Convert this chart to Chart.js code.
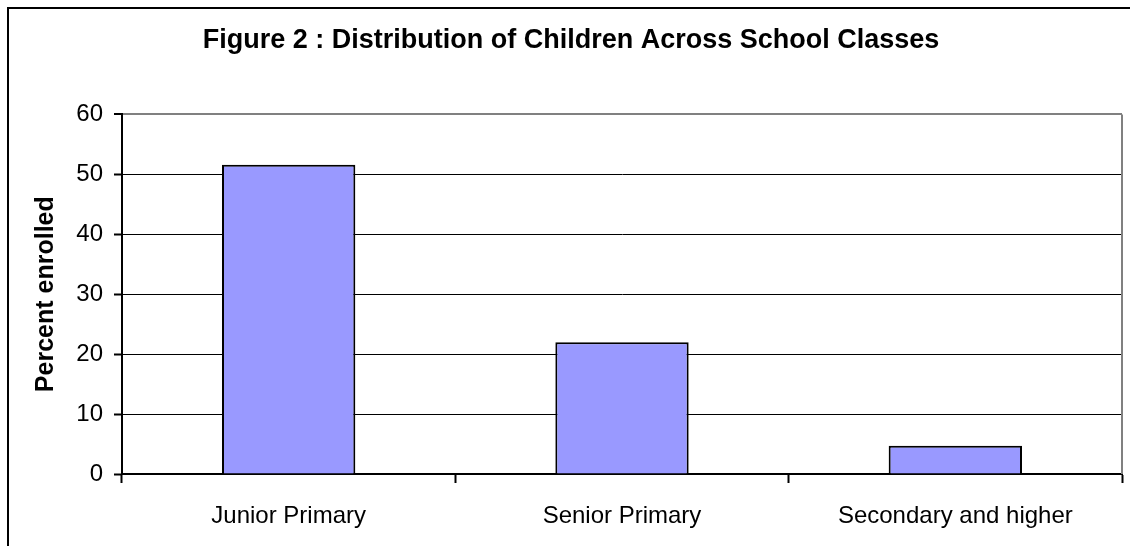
<!DOCTYPE html>
<html>
<head>
<meta charset="utf-8">
<script src="https://cdn.jsdelivr.net/npm/chart.js@4"></script>
<style>
  html, body { margin: 0; padding: 0; background: #fff; }
  #wrap { width: 1130px; height: 546px; }
</style>
</head>
<body>
<div id="wrap"><canvas id="chart"></canvas></div>
<script>
const categories = ["Junior Primary", "Senior Primary", "Secondary and higher"];
const percentEnrolled = [51.6, 22.0, 4.7];
const Y_MIN = 0;
const Y_MAX = 60;
const Y_STEP = 10;

const FONT = "'Liberation Sans', Arial, Helvetica, sans-serif";

// outer frame + grey right edge of the plot area
const framePlugin = {
    id: "frame",
    beforeDraw(chart) {
        const { ctx, width, height } = chart;
        ctx.save();
        ctx.fillStyle = "#fff";
        ctx.fillRect(0, 0, width, height);
        ctx.strokeStyle = "#000";
        ctx.lineWidth = 2;
        ctx.beginPath();
        ctx.moveTo(8, height);
        ctx.lineTo(8, 8);
        ctx.lineTo(width, 8);
        ctx.stroke();
        ctx.restore();
    },
    beforeDatasetsDraw(chart) {
        const { ctx, chartArea: a } = chart;
        ctx.save();
        ctx.strokeStyle = "#808080";
        ctx.lineWidth = 2;
        ctx.beginPath();
        ctx.moveTo(a.right, a.top);
        ctx.lineTo(a.right, a.bottom);
        ctx.stroke();
        ctx.restore();
    }
};

const ctx = document.getElementById("chart").getContext("2d");

new Chart(ctx, {
    type: "bar",
    data: {
        labels: categories,
        datasets: [{
            label: "Percent enrolled",
            data: percentEnrolled,
            backgroundColor: "#9999ff",
            borderColor: "#000",
            borderWidth: 2,
            categoryPercentage: 1,
            barPercentage: 0.4
        }]
    },
    options: {
        responsive: true,
        maintainAspectRatio: false,
        animation: false,
        layout: {
            padding: { left: 20, right: 8, top: 0, bottom: 0 }
        },
        scales: {
            x: {
                afterFit(scale) { scale.height = 72; },
                grid: {
                    offset: true,
                    drawOnChartArea: false,
                    drawTicks: true,
                    tickLength: 9,
                    tickColor: "#000",
                    tickWidth: 2
                },
                border: { display: true, color: "#000", width: 2 },
                ticks: {
                    color: "#000",
                    padding: 19,
                    font: { family: FONT, size: 24 }
                }
            },
            y: {
                min: Y_MIN,
                max: Y_MAX,
                afterFit(scale) { scale.width = 102; },
                grid: {
                    color: (c) => (c.tick && c.tick.value === Y_MAX ? "#808080" : "#000"),
                    lineWidth: (c) => (c.tick && c.tick.value === Y_MAX ? 2 : 1),
                    tickLength: 8,
                    tickColor: "#000",
                    tickWidth: 2
                },
                border: { display: true, color: "#000", width: 2 },
                ticks: {
                    stepSize: Y_STEP,
                    color: "#000",
                    padding: 11,
                    font: { family: FONT, size: 24 }
                },
                title: {
                    display: true,
                    text: "Percent enrolled",
                    color: "#000",
                    padding: { top: 11, bottom: 0 },
                    font: { family: FONT, size: 25, weight: "bold" }
                }
            }
        },
        plugins: {
            legend: { display: false },
            tooltip: { enabled: false },
            title: {
                display: true,
                text: "Figure 2 : Distribution of Children Across School Classes",
                color: "#000",
                padding: { top: 24, bottom: 58 },
                font: { family: FONT, size: 27, weight: "bold" }
            }
        }
    },
    plugins: [framePlugin]
});
</script>
</body>
</html>
